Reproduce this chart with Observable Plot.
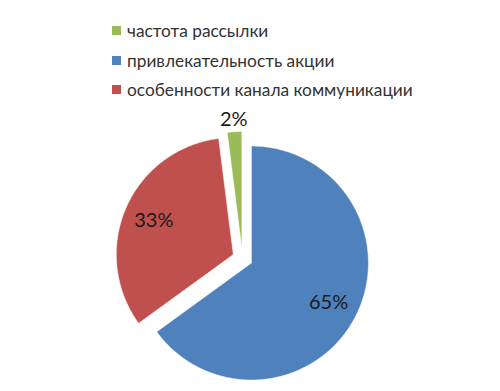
<!DOCTYPE html>
<html><head><meta charset="utf-8">
<script src="https://cdn.jsdelivr.net/npm/d3@7"></script>
<script src="https://cdn.jsdelivr.net/npm/@observablehq/plot@0.6"></script>
<style>
body{margin:0;background:#fff;font-family:Lato,"Open Sans",sans-serif;}
#legend{height:105px;box-sizing:border-box;padding-top:16px;}
.row{height:29.5px;display:flex;align-items:center;padding-left:112px;font-size:17.3px;color:#333;}
.sw{width:9px;height:9px;margin-right:6px;flex:none;}
</style></head><body>
<div id="legend"></div><div id="chart"></div>
<script>
const categories = ["частота рассылки", "привлекательность акции", "особенности канала коммуникации"];
const values = [2, 65, 33];
const labels = ["2%", "65%", "33%"];
const colors = ["#9BBB59", "#4F81BD", "#C0504D"];

// legend
const leg = document.getElementById("legend");
categories.forEach((c, i) => {
  const r = document.createElement("div"); r.className = "row";
  const s = document.createElement("span"); s.className = "sw"; s.style.background = colors[i];
  r.appendChild(s); r.appendChild(document.createTextNode(c));
  leg.appendChild(r);
});

// pie geometry (unit radius), clockwise from top
const total = d3.sum(values);
const explode = 0.0855;
let a = -values[0] / total * 2 * Math.PI;
const pts = [], lab = [];
values.forEach((v, i) => {
  const a0 = a, a1 = a + v / total * 2 * Math.PI; a = a1;
  const mid = (a0 + a1) / 2;
  const ox = explode * Math.sin(mid), oy = explode * Math.cos(mid);
  pts.push({cat: categories[i], color: colors[i], x: ox, y: oy});
  const n = Math.max(2, Math.ceil((a1 - a0) / 0.01));
  for (let k = 0; k <= n; k++) {
    const t = a0 + (a1 - a0) * k / n;
    pts.push({cat: categories[i], color: colors[i], x: ox + Math.sin(t), y: oy + Math.cos(t)});
  }
  pts.push({cat: categories[i], color: colors[i], x: ox, y: oy});
  const lr = v / total < 0.05 ? 1.10 : 0.74;
  lab.push({text: labels[i], x: ox + lr * Math.sin(mid), y: oy + lr * Math.cos(mid)});
});

const R = 117, W = 500, H = 286, cx = 242, cy = 153;
const chart = Plot.plot({
  width: W, height: H, margin: 0,
  x: {domain: [-cx / R, (W - cx) / R], range: [0, W], axis: null},
  y: {domain: [-(H - cy) / R, cy / R], range: [H, 0], axis: null},
  style: {fontFamily: "Lato, 'Open Sans', sans-serif", background: "#fff"},
  marks: [
    Plot.line(pts, {x: "x", y: "y", z: "cat", fill: "color", stroke: "white", strokeWidth: 1, strokeOpacity: 0.5, curve: "linear"}),
    Plot.text(lab, {x: "x", y: "y", text: "text", fontSize: 20, fill: "#1a1a1a", textAnchor: "middle", lineAnchor: "middle"})
  ]
});
document.getElementById("chart").appendChild(chart);
</script>
</body></html>
